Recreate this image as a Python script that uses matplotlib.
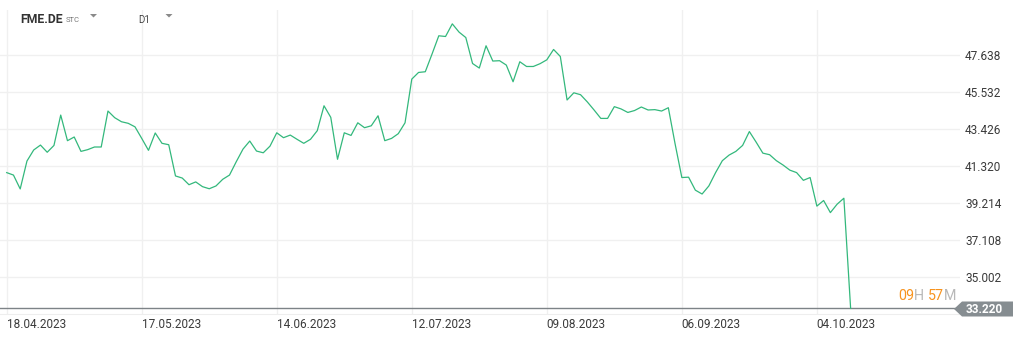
import matplotlib
matplotlib.use("Agg")
import matplotlib.pyplot as plt
from matplotlib.patches import Polygon

plt.rcParams["font.family"] = ["Roboto", "DejaVu Sans"]

# daily closes FME.DE, D1
closes = [
    40.96, 40.82, 40.03, 41.62, 42.25, 42.53, 42.12, 42.51, 44.24, 42.78,
    42.99, 42.17, 42.27, 42.42, 42.42, 44.47, 44.09, 43.86, 43.77, 43.57,
    42.91, 42.23, 43.22, 42.63, 42.55, 40.77, 40.65, 40.27, 40.43, 40.16,
    40.04, 40.20, 40.58, 40.82, 41.58, 42.30, 42.76, 42.19, 42.09, 42.47,
    43.23, 42.95, 43.10, 42.86, 42.63, 42.86, 43.35, 44.77, 44.11, 41.72,
    43.23, 43.08, 43.80, 43.52, 43.63, 44.20, 42.78, 42.91, 43.18, 43.80,
    46.29, 46.67, 46.71, 47.72, 48.76, 48.72, 49.44, 48.97, 48.66, 47.18,
    46.92, 48.19, 47.32, 47.34, 47.09, 46.14, 47.28, 47.01, 47.01, 47.17,
    47.39, 47.98, 47.58, 45.10, 45.51, 45.40, 44.99, 44.53, 44.05, 44.05,
    44.72, 44.59, 44.39, 44.50, 44.70, 44.53, 44.55, 44.47, 44.66, 42.60,
    40.68, 40.70, 39.96, 39.74, 40.20, 40.96, 41.64, 41.96, 42.17, 42.51,
    43.30, 42.70, 42.07, 41.98, 41.64, 41.39, 41.10, 40.96, 40.52, 40.68,
    39.05, 39.37, 38.68, 39.16, 39.50, 33.22,
]
date_ticks = [1, 21, 41, 61, 81, 101, 121]
date_labels = ["18.04.2023", "17.05.2023", "14.06.2023", "12.07.2023",
               "09.08.2023", "06.09.2023", "04.10.2023"]
price_ticks = [35.002, 37.108, 39.214, 41.320, 43.426, 45.532, 47.638]
last_price = 33.220

W, H = 1025, 340
fig = plt.figure(figsize=(W / 100, H / 100), dpi=100)
ax = fig.add_axes([0, (H - 314) / H, 960 / W, 304 / H])

days = list(range(1, len(closes) + 1))
ax.plot(days, closes, color="#33b87c", linewidth=0.9, zorder=3)
ax.axhline(last_price, color="#7d8387", linewidth=1.0, zorder=2)

ax.set_xlim(0.007, 142.2)
ax.set_ylim(32.90, 50.23)

ax.set_xticks(date_ticks)
ax.set_xticklabels(date_labels)
ax.set_yticks(price_ticks)
ax.set_yticklabels([f"{p:.3f}" for p in price_ticks])
ax.yaxis.tick_right()
ax.tick_params(axis="both", length=0, labelsize=8.5, labelcolor="#3a3a3a")
ax.tick_params(axis="x", pad=3)
ax.tick_params(axis="y", pad=3.6)
for lab in ax.get_xticklabels():
    lab.set_horizontalalignment("left")
for lab in ax.get_yticklabels():
    lab.set_horizontalalignment("left")

ax.grid(True, color="#f0f0f0", linewidth=1.0)
ax.set_axisbelow(True)
for side in ["top", "left", "right"]:
    ax.spines[side].set_visible(False)
ax.spines["bottom"].set_color("#eeeeee")

# last price tag
def px(x, y):
    return (x / W, 1 - y / H)

tag = Polygon([px(954, 309), px(962, 301.5), px(1013, 301.5), px(1013, 316.5), px(962, 316.5)],
              closed=True, transform=fig.transFigure, facecolor="#868d91", edgecolor="none")
fig.patches.append(tag)
fig.text(*px(984, 309.5), f"{last_price:.3f}", color="white", fontsize=8.5,
         fontweight="bold", ha="center", va="center")

# countdown to candle close
parts = [("09", "#f7931e"), ("H ", "#b8b8b8"), ("57", "#f7931e"), ("M", "#b8b8b8")]
x0 = 898
for txt, col in parts:
    t = fig.text(x0 / W, 1 - 300 / H, txt, color=col, fontsize=10.3, ha="left", va="baseline")
    fig.canvas.draw()
    x0 += t.get_window_extent().width

# header
fig.text(*px(20.5, 23.3), "FME.DE", fontsize=8.8, fontweight="bold", color="#333333", va="baseline")
fig.text(*px(65.5, 22.5), "STC", fontsize=5.5, color="#777777", va="baseline")
fig.text(*px(138, 23), "D1", fontsize=7, color="#444444", va="baseline")
for cx in (93.5, 169):
    tri = Polygon([px(cx - 3.5, 14), px(cx + 3.5, 14), px(cx, 17.5)], closed=True,
                  transform=fig.transFigure, facecolor="#8a8a8a", edgecolor="none")
    fig.patches.append(tri)

fig.savefig("out.png", dpi=100)
